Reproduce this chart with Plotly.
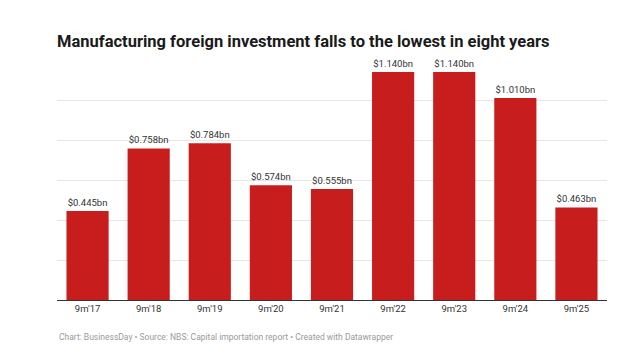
import plotly.graph_objects as go

categories = ["9m'17", "9m'18", "9m'19", "9m'20", "9m'21", "9m'22", "9m'23", "9m'24", "9m'25"]
values = [0.445, 0.758, 0.784, 0.574, 0.555, 1.140, 1.140, 1.010, 0.463]
labels = ["$%.3fbn" % v for v in values]
grid_ticks = [0.2, 0.4, 0.6, 0.8, 1.0]

title_text = "Manufacturing foreign investment falls to the lowest in eight years"
footer_text = "Chart: BusinessDay • Source: NBS: Capital importation report • Created with Datawrapper"

fig = go.Figure(go.Bar(
    x=categories, y=values, text=labels, textposition="outside",
    textfont=dict(family="Roboto", size=9.5, color="#333333"),
    marker=dict(color="#c71e1d", line=dict(width=0)),
    cliponaxis=False, width=0.69,
))

fig.update_layout(
    width=642, height=358,
    margin=dict(l=49, r=43, t=52, b=66),
    paper_bgcolor="white", plot_bgcolor="white",
    font=dict(family="Roboto", color="#333333"),
    showlegend=False,
    title=dict(text="<b>" + title_text + "</b>", x=49/642, xanchor="left",
               y=1 - 33/358, yanchor="middle",
               font=dict(family="Roboto", size=16.5, color="#1a1a1a")),
    annotations=[dict(text=footer_text, xref="paper", yref="paper",
                      x=0, y=-(329 - 292) / 240, xanchor="left", yanchor="middle",
                      showarrow=False,
                      font=dict(family="Roboto", size=8.5, color="#9a9a9a"))],
)
fig.update_xaxes(showline=True, linecolor="#333333", linewidth=1, ticks="",
                 tickfont=dict(family="Roboto", size=9.5, color="#333333"),
                 showgrid=False, fixedrange=True)
fig.update_yaxes(range=[0, 1.2], tickvals=grid_ticks, showticklabels=False,
                 gridcolor="#e6e6e6", gridwidth=1, zeroline=False, fixedrange=True)

fig.write_html("out.html")
